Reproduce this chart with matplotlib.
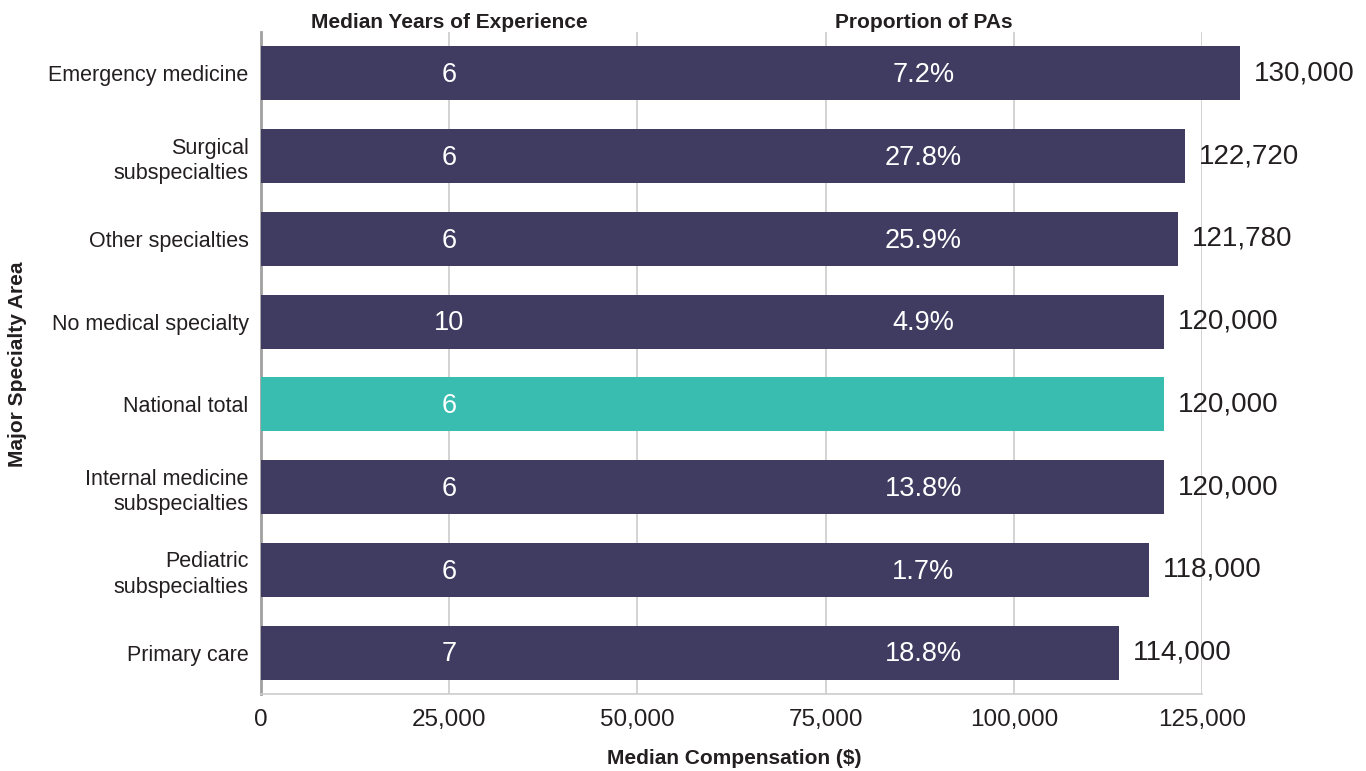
import matplotlib
matplotlib.use("Agg")
import matplotlib.pyplot as plt

plt.rcParams['font.family'] = ['Liberation Sans', 'DejaVu Sans']

categories = ["Emergency medicine", "Surgical\nsubspecialties", "Other specialties",
              "No medical specialty", "National total", "Internal medicine\nsubspecialties",
              "Pediatric\nsubspecialties", "Primary care"]
compensation = [130000, 122720, 121780, 120000, 120000, 120000, 118000, 114000]
years_exp = [6, 6, 6, 10, 6, 6, 6, 7]
proportion = ["7.2%", "27.8%", "25.9%", "4.9%", "", "13.8%", "1.7%", "18.8%"]
xticks = [0, 25000, 50000, 75000, 100000, 125000]

dark = "#403c61"
teal = "#38bdb0"
txt = "#231f20"

W, H = 1366, 771
fig = plt.figure(figsize=(W/100, H/100), dpi=100)
ax = fig.add_axes([261/W, 1-694/H, (1202-261)/W, (694-32)/H])

ypos = list(range(len(categories)))
colors = [teal if c == "National total" else dark for c in categories]
ax.barh(ypos, compensation, height=0.65, color=colors, clip_on=False, zorder=3)
ax.set_ylim(len(categories)-0.5, -0.5)
ax.set_xlim(0, 125000)
ax.set_xticks(xticks)
ax.set_xticklabels([f"{v:,}" for v in xticks], fontsize=17.5, color=txt)
ax.set_yticks(ypos)
ax.set_yticklabels(categories, fontsize=15.5, color=txt, linespacing=1.3)
ax.tick_params(axis='both', length=0)
ax.tick_params(axis='x', pad=11)
ax.tick_params(axis='y', pad=9)
ax.grid(axis='x', color='#cccccc', linewidth=1.2, zorder=0)
for s in ['top', 'right']:
    ax.spines[s].set_visible(False)
ax.spines['left'].set_color('#a0a0a0')
ax.spines['left'].set_linewidth(2)
ax.spines['bottom'].set_color('#cccccc')
ax.spines['bottom'].set_linewidth(1.2)

for i, (c, y, p) in enumerate(zip(compensation, years_exp, proportion)):
    ax.text(25000, i + 0.02, str(y), color='white', fontsize=19.5, ha='center', va='center', zorder=4)
    if p:
        ax.text(88000, i + 0.02, p, color='white', fontsize=19.5, ha='center', va='center', zorder=4)
    ax.annotate(f"{c:,}", (c, i), xytext=(10, 0), textcoords='offset points',
                fontsize=20, color=txt, ha='left', va='center', annotation_clip=False)

trans = ax.get_xaxis_transform()
ax.text(25000, 1 + 10/662, "Median Years of Experience", fontsize=15, fontweight='bold',
        color=txt, ha='center', va='center', transform=trans)
ax.text(88000, 1 + 10/662, "Proportion of PAs", fontsize=15, fontweight='bold',
        color=txt, ha='center', va='center', transform=trans)

fig.text(734/W, 1-758/H, "Median Compensation ($)", fontsize=15, fontweight='bold',
         color=txt, ha='center', va='center')
fig.text(18/W, 1-364/H, "Major Specialty Area", fontsize=15, fontweight='bold',
         color=txt, ha='center', va='center', rotation=90)

fig.savefig("out.png", dpi=100)
